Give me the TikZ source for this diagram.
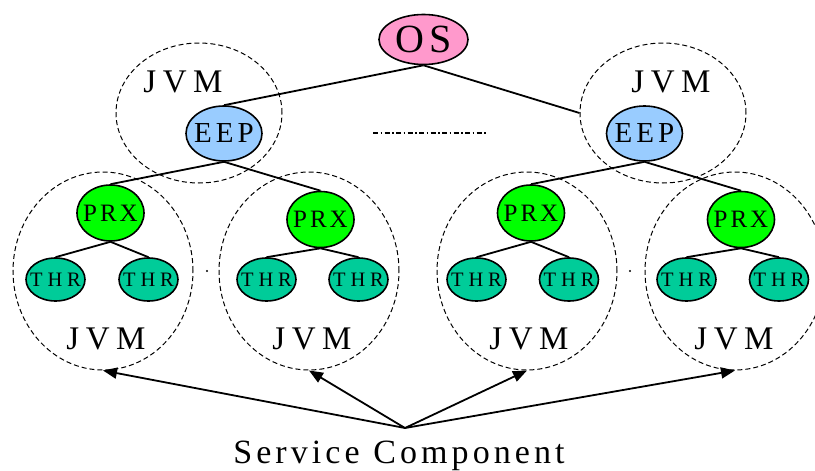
\documentclass[tikz,border=0pt]{standalone}
\usepackage{fontspec}
\setmainfont{Liberation Serif}
\usetikzlibrary{shapes.geometric,arrows.meta}
\definecolor{ospink}{HTML}{FF99CC}
\definecolor{eepblue}{HTML}{99CCFF}
\definecolor{prxgreen}{HTML}{00FF00}
\definecolor{thrteal}{HTML}{00CC99}
\makeatletter
\newcommand{\spaced}[2]{\begingroup\def\sp@sep{}\@tfor\sp@c:=#2\do{\sp@sep\sp@c\def\sp@sep{\kern#1}}\endgroup}
\makeatother
\newcommand{\inbox}[2]{\makebox[0pt]{\spaced{#1}{#2}}}
\tikzset{
  proc/.style={ellipse,draw=black,line width=1.6pt,inner sep=0pt},
  osnode/.style={proc,fill=ospink,minimum width=89pt,minimum height=50pt,font=\fontsize{40}{40}\selectfont},
  eepnode/.style={proc,fill=eepblue,minimum width=76pt,minimum height=55pt,font=\fontsize{29}{29}\selectfont},
  prxnode/.style={proc,fill=prxgreen,minimum width=67pt,minimum height=56pt,font=\fontsize{25}{25}\selectfont},
  thrnode/.style={proc,fill=thrteal,minimum width=59pt,minimum height=43pt,font=\fontsize{20.5}{20.5}\selectfont},
  jvmtop/.style={ellipse,draw=black,dash pattern=on 5pt off 3pt,line width=1pt,minimum width=166pt,minimum height=140pt,inner sep=0pt},
  jvmlow/.style={ellipse,draw=black,dash pattern=on 5pt off 3pt,line width=1pt,minimum width=180pt,minimum height=198pt,inner sep=0pt},
  jvmtext/.style={anchor=base,inner sep=0pt,font=\fontsize{33}{33}\selectfont},
  link/.style={draw=black,line width=1.8pt},
  sarrow/.style={draw=black,line width=1.8pt,-{Triangle[length=14pt,width=11pt]}},
}
\begin{document}
\begin{tikzpicture}[x=1pt,y=-1pt]
\clip (0,0) rectangle (815,471);
% JVM containers
\node[jvmtop] (jtl) at (199,113) {};
\node[jvmtop] (jtr) at (663,113) {};
\node[jvmlow] (j1) at (103,271) {};
\node[jvmlow] (j2) at (309,271) {};
\node[jvmlow] (j3) at (527,271) {};
\node[jvmlow] (j4) at (735,271) {};
% JVM labels
\node[jvmtext] (ltl) at (183,92) {\spaced{.2em}{JVM}};
\node[jvmtext] (ltr) at (671,92) {\spaced{.2em}{JVM}};
\node[jvmtext] (l1) at (106,349) {\spaced{.2em}{JVM}};
\node[jvmtext] (l2) at (312,349) {\spaced{.2em}{JVM}};
\node[jvmtext] (l3) at (529,349) {\spaced{.2em}{JVM}};
\node[jvmtext] (l4) at (734,349) {\spaced{.2em}{JVM}};
% processes
\node[osnode] (os) at (423.5,39.5) {\inbox{.12em}{OS}};
\node[eepnode] (eepl) at (224,133.5) {\inbox{.14em}{EEP}};
\node[eepnode] (eepr) at (644.5,133.5) {\inbox{.14em}{EEP}};
\node[prxnode] (p1) at (110.5,213) {\inbox{.12em}{PRX}};
\node[prxnode] (p2) at (320.5,219.5) {\inbox{.12em}{PRX}};
\node[prxnode] (p3) at (531,213) {\inbox{.12em}{PRX}};
\node[prxnode] (p4) at (741,219.5) {\inbox{.12em}{PRX}};
\node[thrnode] (t1a) at (55.5,279.5) {\inbox{.24em}{THR}};
\node[thrnode] (t1b) at (148.5,279.5) {\inbox{.24em}{THR}};
\node[thrnode] (t2a) at (266.5,279.5) {\inbox{.24em}{THR}};
\node[thrnode] (t2b) at (358.5,279.5) {\inbox{.24em}{THR}};
\node[thrnode] (t3a) at (476.5,279.5) {\inbox{.24em}{THR}};
\node[thrnode] (t3b) at (569,279.5) {\inbox{.24em}{THR}};
\node[thrnode] (t4a) at (686.5,279.5) {\inbox{.24em}{THR}};
\node[thrnode] (t4b) at (779,279.5) {\inbox{.24em}{THR}};
% links
\draw[link] (os.south) -- (eepl.north);
\draw[link] (os.south) -- (jtr.west);
\draw[link] (eepl.south) -- (p1.north);
\draw[link] (eepl.south) -- (p2.north);
\draw[link] (eepr.south) -- (p3.north);
\draw[link] (eepr.south) -- (p4.north);
\foreach \p/\a/\b in {p1/t1a/t1b,p2/t2a/t2b,p3/t3a/t3b,p4/t4a/t4b}{
  \draw[link] (\p.south) -- (\a.north);
  \draw[link] (\p.south) -- (\b.north);
}
% ellipsis marks
\coordinate (dl) at (373,133);
\coordinate (dr) at (486,133);
\draw[line width=1.2pt,dash pattern=on 5pt off 2.5pt on 1.5pt off 2.5pt] (dl) -- (dr);
\fill (207,271) circle (1.1pt);
\fill (630,271) circle (1.1pt);
% service component
\node[anchor=base,inner sep=0pt,font=\fontsize{34}{34}\selectfont] (sc) at (399,463) {\spaced{.12em}{Service}\hspace{.4em}\spaced{.12em}{Component}};
\coordinate (src) at (405,428);
\draw[sarrow] (src) -- (j1.south);
\draw[sarrow] (src) -- (j2.south);
\draw[sarrow] (src) -- (j3.south);
\draw[sarrow] (src) -- (j4.south);
\end{tikzpicture}
\end{document}
